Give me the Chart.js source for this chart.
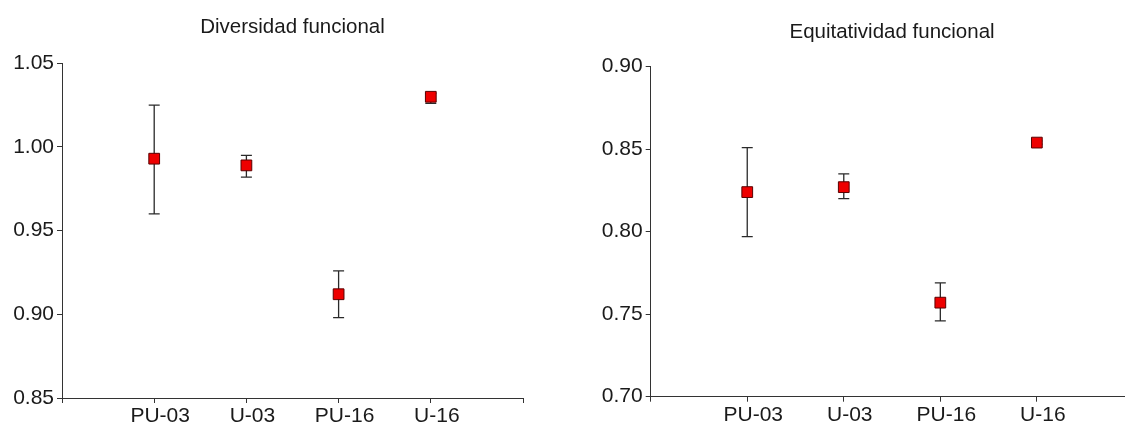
<!DOCTYPE html>
<html>
<head>
<meta charset="utf-8">
<script src="https://cdn.jsdelivr.net/npm/chart.js@4"></script>
<style>
  html, body { margin: 0; padding: 0; background: #fff; overflow: hidden; }
  body { width: 1125px; height: 426px; position: relative; }
  .box { position: absolute; top: 0; height: 426px; }
  #left { left: 0; width: 562px; }
  #right { left: 562px; width: 580px; }
</style>
</head>
<body>
<div class="box" id="left"><canvas id="divChart"></canvas></div>
<div class="box" id="right"><canvas id="equChart"></canvas></div>
<script>
const categories = ['PU-03', 'U-03', 'PU-16', 'U-16'];

const diversidadMean = [0.993, 0.989, 0.912, 1.030];
const diversidadLow = [0.960, 0.982, 0.898, 1.026];
const diversidadHigh = [1.025, 0.995, 0.926, 1.032];

const equitMean = [0.824, 0.827, 0.757, 0.854];
const equitLow = [0.797, 0.820, 0.746, 0.853];
const equitHigh = [0.851, 0.835, 0.769, 0.855];

const diversidadTicks = [0.85, 0.90, 0.95, 1.00, 1.05];
const equitTicks = [0.70, 0.75, 0.80, 0.85, 0.90];

const FONT = "'Liberation Sans', Arial, sans-serif";
const AXIS = '#333';

// draws whiskers from the low/high arrays using the chart's scales
const errorBars = {
  id: 'errorBars',
  beforeDatasetsDraw(chart, args, opts) {
    const { ctx, scales: { x, y } } = chart;
    ctx.save();
    ctx.strokeStyle = '#2a2a2a';
    ctx.lineWidth = 1.3;
    opts.low.forEach((lo, i) => {
      const px = x.getPixelForValue(i + 1);
      const yl = y.getPixelForValue(lo);
      const yh = y.getPixelForValue(opts.high[i]);
      ctx.beginPath();
      ctx.moveTo(px, yl); ctx.lineTo(px, yh);
      ctx.moveTo(px - 5.5, yl); ctx.lineTo(px + 5.5, yl);
      ctx.moveTo(px - 5.5, yh); ctx.lineTo(px + 5.5, yh);
      ctx.stroke();
    });
    ctx.restore();
  }
};

function makeChart(canvas, cfg) {
  return new Chart(canvas, {
    type: 'scatter',
    data: {
      datasets: [{
        data: cfg.mean.map((v, i) => ({ x: i + 1, y: v })),
        pointStyle: 'rect',
        pointRadius: 7.6,
        pointHoverRadius: 7.6,
        backgroundColor: '#ee0000',
        borderColor: '#5a0000',
        borderWidth: 1,
      }],
    },
    options: {
      responsive: true,
      maintainAspectRatio: false,
      animation: false,
      layout: { padding: { top: 0, right: cfg.padRight, bottom: 0, left: 0 } },
      plugins: {
        legend: { display: false },
        tooltip: { enabled: false },
        title: {
          display: true,
          text: cfg.title,
          fullSize: false,
          color: '#1a1a1a',
          font: { family: FONT, size: 20.5, weight: 'normal' },
          padding: { top: cfg.titleTop, bottom: cfg.titleBottom },
        },
        errorBars: { low: cfg.low, high: cfg.high },
      },
      scales: {
        x: {
          type: 'linear',
          min: 0,
          max: 5,
          afterBuildTicks: (s) => { s.ticks = [0, 1, 2, 3, 4, 5].map(v => ({ value: v })); },
          afterFit: (s) => { s.height = cfg.xHeight; },
          ticks: {
            color: '#1a1a1a',
            font: { family: FONT, size: 21, lineHeight: 1 },
            padding: 3,
            labelOffset: 6,
            maxRotation: 0,
            autoSkip: false,
            callback: (v) => categories[v - 1] || '',
          },
          grid: { drawOnChartArea: false, tickLength: 5, color: AXIS, lineWidth: 1 },
          border: { color: AXIS, width: 1 },
        },
        y: {
          min: cfg.ticks[0],
          max: cfg.ticks[cfg.ticks.length - 1],
          afterBuildTicks: (s) => { s.ticks = cfg.ticks.map(v => ({ value: v })); },
          afterFit: (s) => { s.width = cfg.yWidth; },
          ticks: {
            color: '#1a1a1a',
            font: { family: FONT, size: 21 },
            padding: 3,
            callback: (v) => v.toFixed(2),
          },
          grid: { drawOnChartArea: false, tickLength: 5, color: AXIS, lineWidth: 1 },
          border: { color: AXIS, width: 1 },
        },
      },
    },
    plugins: [errorBars],
  });
}

makeChart(document.getElementById('divChart'), {
  title: 'Diversidad funcional',
  mean: diversidadMean, low: diversidadLow, high: diversidadHigh,
  ticks: diversidadTicks,
  titleTop: 14.9, titleBottom: 23.8,
  yWidth: 62, xHeight: 28, padRight: 39,
});

makeChart(document.getElementById('equChart'), {
  title: 'Equitatividad funcional',
  mean: equitMean, low: equitLow, high: equitHigh,
  ticks: equitTicks,
  titleTop: 19.9, titleBottom: 22.2,
  yWidth: 88.7, xHeight: 29.3, padRight: 8.5,
});
</script>
</body>
</html>
